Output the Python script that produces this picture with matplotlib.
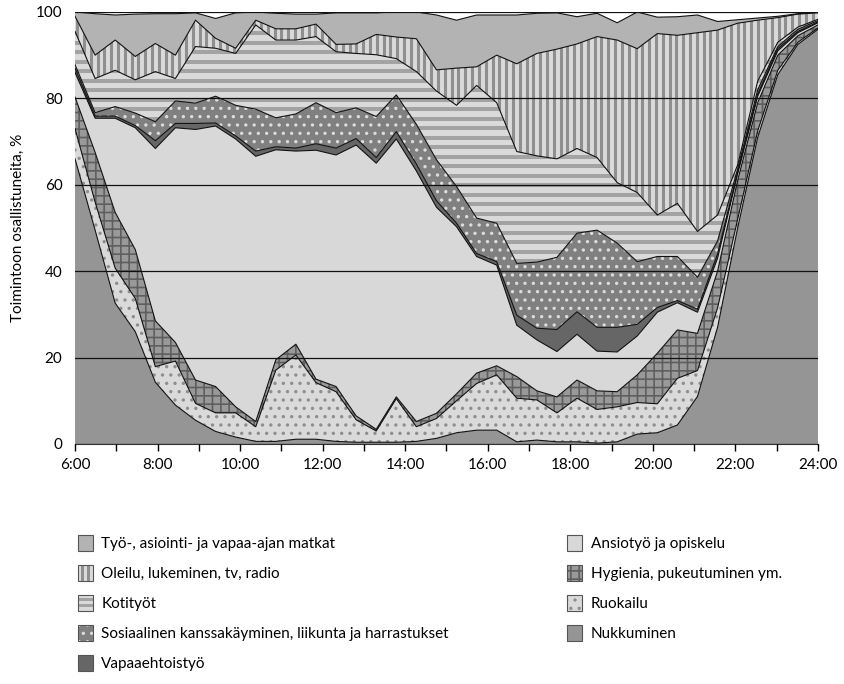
import numpy as np
import matplotlib.pyplot as plt
from matplotlib.patches import Rectangle
from matplotlib.legend_handler import HandlerBase
from matplotlib.ticker import MultipleLocator, FuncFormatter

plt.rcParams['font.family'] = ['Lato', 'DejaVu Sans']
plt.rcParams['hatch.linewidth'] = 1.2

# kellonajat 6:00 - 24:00, 38 havaintopistettä
aika = np.linspace(6, 24, 38)

nukkuminen = [66, 49.5, 32.6, 26, 14.3, 9, 5.5, 2.9, 1.6, 0.6, 0.6, 1.1, 1.1, 0.6, 0.4, 0.4, 0.4, 0.6, 1.3,
              2.6, 3.2, 3.2, 0.5, 0.9, 0.5, 0.5, 0.2, 0.5, 2.3, 2.6, 4.4, 11, 27, 50, 71, 85.5, 92.5, 96]
ruokailu = [7, 6.5, 8.1, 7.7, 3.6, 10.2, 3.9, 4.3, 5.6, 3.4, 16.5, 19.5, 13.1, 11.5, 5.2, 2.6, 10.1, 3.4, 4.6,
            7.4, 10.8, 12.8, 10.1, 9.3, 6.7, 10.1, 7.8, 8.1, 7.3, 6.7, 10.8, 6, 4.5, 2, 1.5, 1, 0.5, 0.3]
hygienia = [7.3, 11.5, 12.9, 11.3, 10.6, 4.3, 5.4, 6.1, 1.4, 1.2, 2.4, 2.5, 0.8, 1.2, 0.9, 0.4, 0.4, 1.2, 1.2,
            1.6, 2.4, 2.1, 5, 2.1, 3.7, 4.2, 4.3, 3.5, 6.4, 11.7, 11.2, 8.6, 8.5, 9, 6.5, 3.5, 1.5, 0.7]
ansiotyo = [5.7, 7.9, 21.8, 28.2, 39.9, 49.7, 58, 60.3, 62, 61.4, 48.6, 44.7, 53, 53.6, 62.7, 61.6, 59.7, 58, 47.7,
            38.7, 27, 23.3, 11.9, 11.8, 10.5, 10.6, 9.2, 9.2, 9, 9.5, 6.3, 4.9, 3, 1.5, 1.5, 1, 0.7, 0.5]
vapaaehtoistyo = [1, 0.5, 0.5, 0.5, 1.8, 1, 1.4, 0.7, 0.7, 1.2, 0.7, 0.7, 1.5, 1.6, 1.5, 1.3, 1.7, 1.6, 1.5,
                  0.8, 0.7, 0.8, 2.3, 2.7, 5.1, 5.2, 5.5, 5.7, 2.7, 1.1, 0.5, 0.7, 1, 0.5, 0.5, 0.5, 0.3, 0.2]
sosiaalinen = [0.8, 0.8, 2.2, 2.9, 4.4, 5.2, 4.7, 6.2, 7.1, 9.7, 6.7, 7.9, 9.5, 8.2, 7.1, 9.5, 8.5, 9.2, 9.5,
               8.5, 8.2, 8.9, 12, 15.3, 16.7, 18.2, 22.5, 19.5, 14.5, 11.8, 10.2, 7.4, 3, 0.7, 1, 0.5, 0.5, 0.3]
kotityot = [7.7, 7.9, 8.4, 7.7, 11.6, 5.2, 13.1, 11.1, 12, 19.5, 18, 17.1, 15.3, 14.1, 12.6, 14.3, 8.4, 12.2, 15.9,
            18.8, 30.7, 27.9, 25.9, 24.6, 22.8, 19.6, 16.8, 14, 16, 9.6, 12.3, 10.6, 6, 0.9, 2, 1, 0.5, 0.3]
oleilu = [3.5, 5.4, 7, 5.4, 6.5, 5.4, 6.1, 2.3, 1.2, 1.1, 2.6, 2.6, 2.9, 1.7, 2.2, 4.7, 5, 7.6, 4.9,
          8.6, 4.3, 11, 20.3, 23.7, 25.4, 24.2, 28, 33, 33.3, 42, 38.9, 46, 42.8, 32.8, 14.1, 5.7, 3, 1.5]
matkat = [1, 9.6, 5.8, 9.8, 6.9, 9.6, 1.7, 4.6, 8.2, 1.9, 3.6, 3.4, 2.3, 7.3, 7.2, 5, 5.8, 6.2, 12.7,
          11.1, 12, 9.3, 11.3, 9.3, 8.4, 6.3, 5.4, 4, 8.5, 3.8, 4.3, 4.1, 2, 0.8, 0.5, 0.3, 0.1, 0.2]

nimet = ['Nukkuminen', 'Ruokailu', 'Hygienia, pukeutuminen ym.', 'Ansiotyö ja opiskelu', 'Vapaaehtoistyö',
         'Sosiaalinen kanssakäyminen, liikunta ja harrastukset', 'Kotityöt', 'Oleilu, lukeminen, tv, radio',
         'Työ-, asiointi- ja vapaa-ajan matkat']
sarjat = [nukkuminen, ruokailu, hygienia, ansiotyo, vapaaehtoistyo, sosiaalinen, kotityot, oleilu, matkat]

tyylit = [
    dict(fc='#959595'),
    dict(fc='#dadada', hatch='..', hc='#8e8e8e'),
    dict(fc='#999999', hatch='++', hc='#5f5f5f'),
    dict(fc='#d8d8d8'),
    dict(fc='#666666'),
    dict(fc='#808080', hatch='..', hc='#dcdcdc'),
    dict(fc='#dadada', raita='h', rc='#a3a3a3'),
    dict(fc='#dadada', raita='v', rc='#8f8f8f'),
    dict(fc='#b3b3b3'),
]

fig = plt.figure(figsize=(8.45, 6.84), dpi=100)
ax = fig.add_axes([0.0888, 0.3509, 0.8792, 0.6316])

alas = np.zeros(len(aika))
for arvot, st in zip(sarjat, tyylit):
    ylos = alas + np.array(arvot)
    pc = ax.fill_between(aika, alas, ylos, facecolor=st['fc'], edgecolor=st.get('hc', 'none'),
                         hatch=st.get('hatch'), linewidth=0, zorder=1)
    polku = pc.get_paths()[0]
    if st.get('raita') == 'h':
        lc = ax.hlines(np.arange(0.5, 100, 2.2), 6, 24, color=st['rc'], linewidth=2.9, zorder=1.1)
        lc.set_clip_path(polku, ax.transData)
    elif st.get('raita') == 'v':
        lc = ax.vlines(np.arange(6.05, 24, 0.165), 0, 100, color=st['rc'], linewidth=2.2, zorder=1.1)
        lc.set_clip_path(polku, ax.transData)
    ax.plot(aika, ylos, color='#111111', lw=0.8, zorder=2)
    alas = ylos

ax.set_xlim(6, 24)
ax.set_ylim(0, 100)
ax.set_axisbelow(False)
ax.yaxis.grid(True, color='#111111', lw=0.9)
ax.set_yticks(range(0, 101, 20))
ax.xaxis.set_major_locator(MultipleLocator(1))
ax.xaxis.set_major_formatter(FuncFormatter(lambda v, p: '%d:00' % v if int(v) % 2 == 0 else ''))
ax.tick_params(axis='x', length=5, width=1, direction='out', pad=5, labelsize=11)
ax.tick_params(axis='y', length=0, pad=9, labelsize=11)
for s in ['left', 'right', 'top']:
    ax.spines[s].set_visible(False)
ax.spines['bottom'].set_color('#333333')
ax.set_ylabel('Toimintoon osallistuneita, %', fontsize=11, labelpad=8)


class Ruutu(HandlerBase):
    def create_artists(self, legend, orig, xd, yd, w, h, fs, trans):
        st = orig.tyyli
        x0, y0 = -xd, -yd
        osat = [Rectangle((x0, y0), w, h, facecolor=st['fc'], edgecolor=st.get('hc', 'none'),
                          hatch=st.get('hatch'), linewidth=0, transform=trans)]
        if st.get('raita') == 'h':
            for f in (0.28, 0.62):
                osat.append(Rectangle((x0, y0 + f * h), w, 0.17 * h, facecolor=st['rc'], lw=0, transform=trans))
        elif st.get('raita') == 'v':
            for f in (0.22, 0.6):
                osat.append(Rectangle((x0 + f * w, y0), 0.2 * w, h, facecolor=st['rc'], lw=0, transform=trans))
        osat.append(Rectangle((x0, y0), w, h, facecolor='none', edgecolor='#555555', lw=0.8, transform=trans))
        return osat


kahvat = []
for st in tyylit:
    r = Rectangle((0, 0), 1, 1)
    r.tyyli = st
    kahvat.append(r)

leg = fig.legend(kahvat[::-1], nimet[::-1], loc='upper left', bbox_to_anchor=(0.0755, 0.238), ncol=2,
                 frameon=False, fontsize=11, handlelength=1.0, handleheight=1.25, handletextpad=0.55,
                 labelspacing=0.9, columnspacing=7.75, handler_map={Rectangle: Ruutu()})

fig.savefig('out.png', dpi=100)
